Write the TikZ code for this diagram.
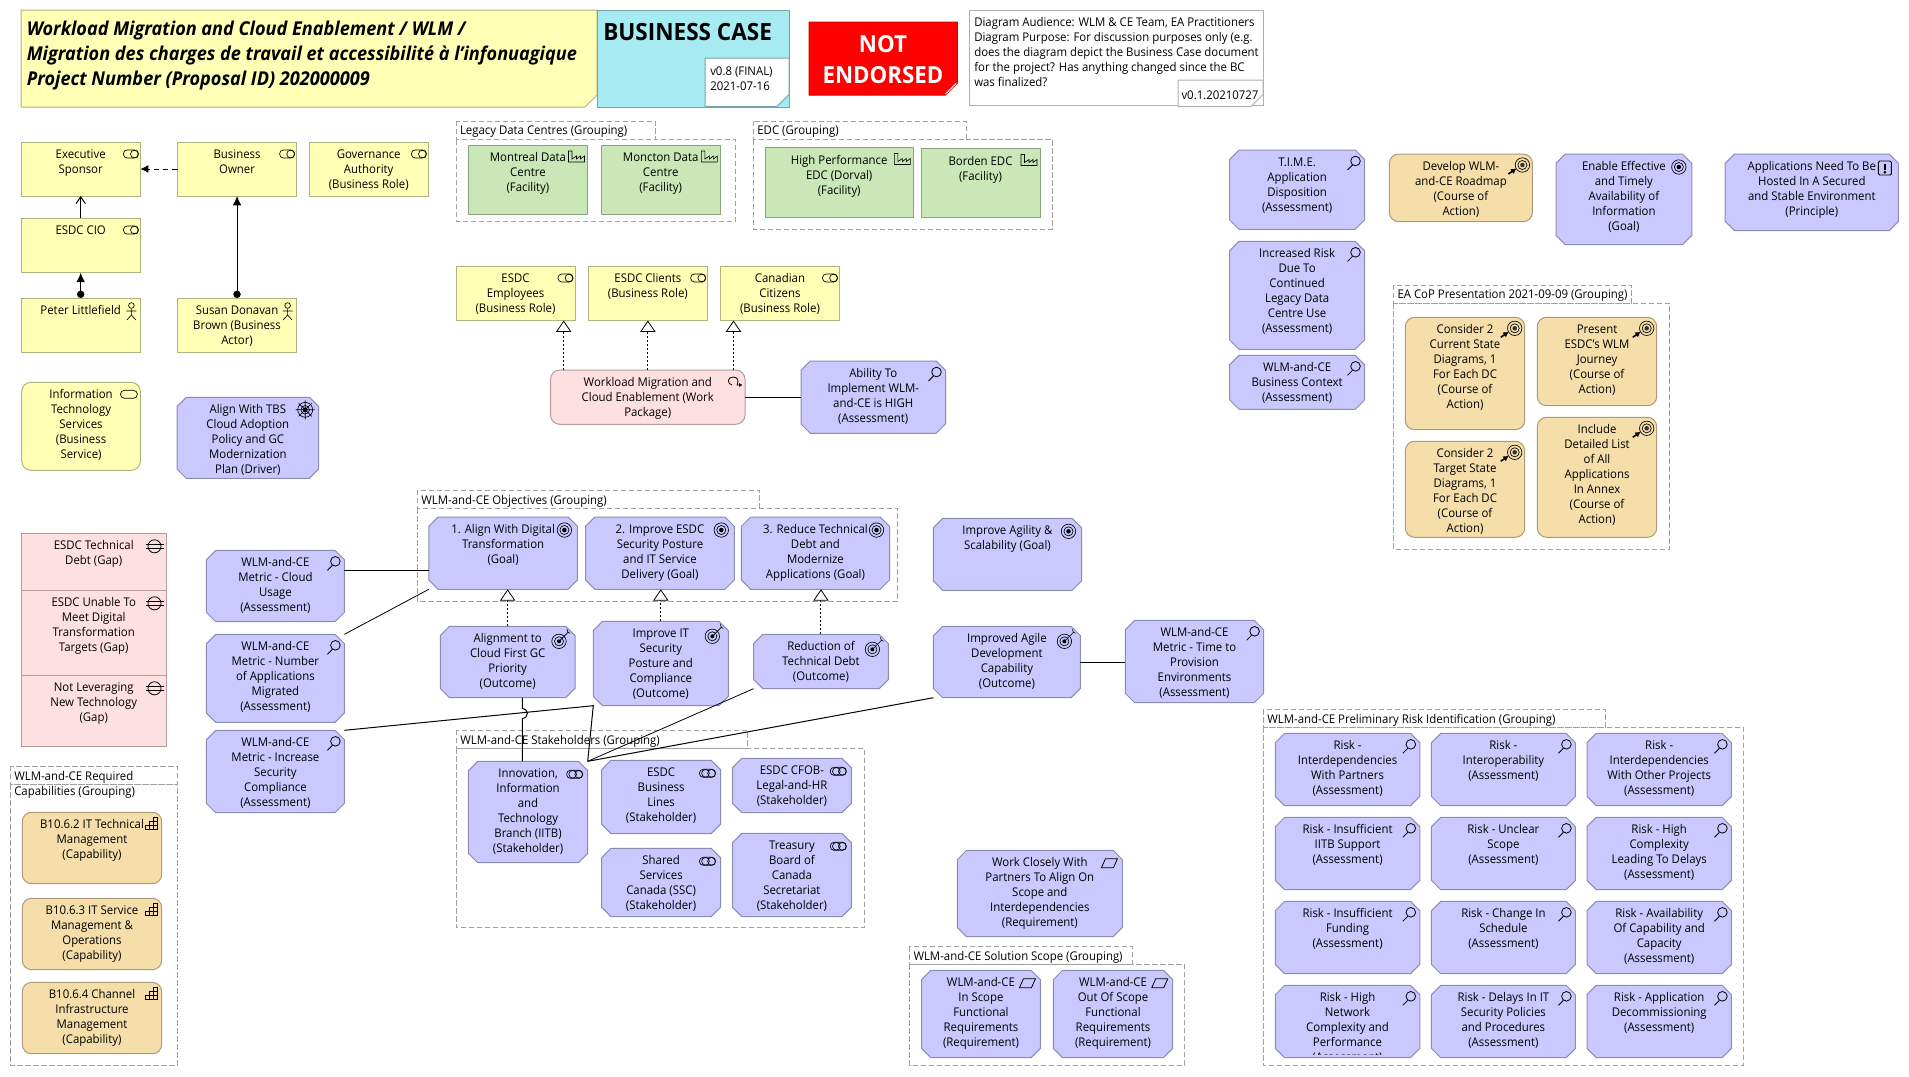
\documentclass[tikz,border=0pt]{standalone}
\usepackage{fontspec}
\setmainfont[FakeStretch=0.95]{Open Sans}
\usetikzlibrary{arrows.meta,calc}
\definecolor{cYel}{HTML}{FFFFB5}\definecolor{bYel}{HTML}{B2B27F}
\definecolor{cGrn}{HTML}{C9E7B7}\definecolor{bGrn}{HTML}{8CA180}
\definecolor{cBlu}{HTML}{C9C9FF}\definecolor{bBlu}{HTML}{8C8CB2}
\definecolor{cPnk}{HTML}{FFE0E0}\definecolor{bPnk}{HTML}{B29C9C}
\definecolor{cOrg}{HTML}{F5DEAA}\definecolor{bOrg}{HTML}{AB9B77}
\definecolor{cCya}{HTML}{A6EBF2}\definecolor{bCya}{HTML}{74A4A9}
\definecolor{bGry}{HTML}{B0B0B0}\definecolor{dGry}{HTML}{A0A0A0}
\makeatletter
\pgfdeclareshape{octbox}{
  \inheritsavedanchors[from=rectangle]
  \inheritanchorborder[from=rectangle]
  \inheritanchor[from=rectangle]{center}
  \inheritanchor[from=rectangle]{north}
  \inheritanchor[from=rectangle]{south}
  \inheritanchor[from=rectangle]{east}
  \inheritanchor[from=rectangle]{west}
  \inheritanchor[from=rectangle]{north east}
  \inheritanchor[from=rectangle]{north west}
  \inheritanchor[from=rectangle]{south east}
  \inheritanchor[from=rectangle]{south west}
  \backgroundpath{
    \southwest\pgf@xa=\pgf@x\pgf@ya=\pgf@y
    \northeast\pgf@xb=\pgf@x\pgf@yb=\pgf@y
    \def\c{7pt}
    \pgfpathmoveto{\pgfpoint{\pgf@xa+\c}{\pgf@ya}}
    \pgfpathlineto{\pgfpoint{\pgf@xb-\c}{\pgf@ya}}
    \pgfpathlineto{\pgfpoint{\pgf@xb}{\pgf@ya+\c}}
    \pgfpathlineto{\pgfpoint{\pgf@xb}{\pgf@yb-\c}}
    \pgfpathlineto{\pgfpoint{\pgf@xb-\c}{\pgf@yb}}
    \pgfpathlineto{\pgfpoint{\pgf@xa+\c}{\pgf@yb}}
    \pgfpathlineto{\pgfpoint{\pgf@xa}{\pgf@yb-\c}}
    \pgfpathlineto{\pgfpoint{\pgf@xa}{\pgf@ya+\c}}
    \pgfpathclose
  }
}
\pgfdeclareshape{notebox}{
  \inheritsavedanchors[from=rectangle]
  \inheritanchorborder[from=rectangle]
  \inheritanchor[from=rectangle]{center}
  \inheritanchor[from=rectangle]{north}
  \inheritanchor[from=rectangle]{south}
  \inheritanchor[from=rectangle]{east}
  \inheritanchor[from=rectangle]{west}
  \backgroundpath{
    \southwest\pgf@xa=\pgf@x\pgf@ya=\pgf@y
    \northeast\pgf@xb=\pgf@x\pgf@yb=\pgf@y
    \def\c{9pt}
    \pgfpathmoveto{\pgfpoint{\pgf@xa}{\pgf@ya}}
    \pgfpathlineto{\pgfpoint{\pgf@xb-\c}{\pgf@ya}}
    \pgfpathlineto{\pgfpoint{\pgf@xb}{\pgf@ya+\c}}
    \pgfpathlineto{\pgfpoint{\pgf@xb}{\pgf@yb}}
    \pgfpathlineto{\pgfpoint{\pgf@xa}{\pgf@yb}}
    \pgfpathclose
  }
}
\makeatother
\tikzset{
  elem/.style={inner sep=0pt,outer sep=0pt,line width=.75pt},
  yel/.style={elem,rectangle,draw=bYel,fill=cYel},
  yelr/.style={elem,rectangle,rounded corners=7pt,draw=bYel,fill=cYel},
  grn/.style={elem,rectangle,draw=bGrn,fill=cGrn},
  blu/.style={elem,shape=octbox,draw=bBlu,fill=cBlu},
  pnk/.style={elem,rectangle,draw=bPnk,fill=cPnk},
  pnkr/.style={elem,rectangle,rounded corners=7pt,draw=bPnk,fill=cPnk},
  org/.style={elem,rectangle,rounded corners=7pt,draw=bOrg,fill=cOrg},
  ic/.style={draw=black,line width=.5pt},
  grpline/.style={draw=dGry,dashed,dash pattern=on 4pt off 2pt,line width=.6pt,fill=white},
  grplabel/.style={anchor=north west,inner sep=0pt,outer sep=0pt,align=left,font=\txt},
  conn/.style={draw=black,line width=.75pt},
  real/.style={conn,dash pattern=on 1.6pt off 1.4pt,-{Triangle[open,fill=white,length=8.5pt,width=11.5pt,line width=.6pt]}},
  flow/.style={conn,dashed,dash pattern=on 4pt off 3pt,-{Latex[length=6pt,width=6pt]}},
  serve/.style={conn,-{Straight Barb[length=5pt,width=7pt]}},
  asg/.style={conn,{Circle[length=5.5pt]}-{Latex[length=7pt,width=6.5pt]}},
  pics/icnone/.style={code={\path (0,0);}},
  pics/icrole/.style={code={\draw[ic,rounded corners=2.8pt] (-17,8) rectangle (-2,16); \draw[ic] (-6,12) circle[radius=2.9pt];}},
  pics/icsvc/.style={code={\draw[ic,rounded corners=3pt] (-20,8) rectangle (-3,16);}},
  pics/icstk/.style={code={\draw[ic,rounded corners=2.7pt] (-21,9) rectangle (-5,17); \draw[ic] (-9,13) circle[radius=2.9pt]; \draw[ic] (-15,13) circle[radius=2.9pt];}},
  pics/icactor/.style={code={\draw[ic] (-9,7.5) circle[radius=2.1pt]; \draw[ic] (-9,10.5)--(-9,17)--(-13.5,22) (-9,17)--(-4.5,22) (-14,13)--(-4,13);}},
  pics/icfac/.style={code={\draw[ic] (-19,17)--(-19,6)--(-15.5,6)--(-15.5,14)--(-11,11)--(-11,14)--(-7,11)--(-7,14)--(-3,11)--(-3,17)--cycle;}},
  pics/icass/.style={code={\draw[ic,line width=.6pt] (-9,11) circle[radius=3.6pt]; \draw[ic,line width=.6pt] (-12,15)--(-17,20);}},
  pics/icgoal/.style={code={\draw[ic] (-13,13) circle[radius=5.4pt]; \draw[ic] (-13,13) circle[radius=3.4pt]; \fill (-13,13) circle[radius=1.7pt];}},
  pics/icout/.style={code={\draw[ic] (-16,15) circle[radius=5.4pt]; \draw[ic] (-16,15) circle[radius=3.4pt]; \fill (-16,15) circle[radius=1.5pt]; \draw[ic] (-16,15)--(-7,6)--(-8,3) (-7,6)--(-5,7);}},
  pics/iccoa/.style={code={\draw[ic] (-10,11) circle[radius=5.4pt]; \draw[ic] (-10,11) circle[radius=3.4pt]; \fill[black!80] (-10,11) circle[radius=1.7pt]; \draw[line width=1.2pt,-{Latex[length=4pt,width=4.5pt]}] (-24,20)--(-16,14.5);}},
  pics/icpri/.style={code={\draw[ic,line width=.7pt,rounded corners=1pt] (-20,7)rectangle(-7,21); \draw[line width=1.5pt] (-13.5,9.5)--(-13.5,15.5); \fill (-13.5,18.2) circle[radius=1.1pt];}},
  pics/icdrv/.style={code={\draw[ic] (-13.5,12.5) circle[radius=5.6pt]; \draw[ic] (-13.5,12.5) circle[radius=3.2pt]; \fill (-13.5,12.5) circle[radius=1.8pt]; \draw[ic] (-23,12.5)--(-4,12.5) (-13.5,3)--(-13.5,22) (-20,6)--(-7,19) (-7,6)--(-20,19);}},
  pics/icgap/.style={code={\draw[ic,line width=.6pt] (-12,13) circle[radius=4.9pt]; \draw[ic,line width=.6pt] (-21,11)--(-3,11) (-21,15)--(-3,15);}},
  pics/icwp/.style={code={\draw[ic,line width=.6pt,-{Latex[length=2.5pt,width=3pt]}] (-13,15) .. controls (-18,14) and (-18,7) .. (-12,7) .. controls (-7,7) and (-6,11) .. (-8,15) -- (-2.5,15);}},
  pics/iccap/.style={code={\draw[ic] (-16.5,17)rectangle(-12.5,13); \draw[ic] (-12.5,17)rectangle(-8,13); \draw[ic] (-8,17)rectangle(-4,13); \draw[ic] (-12.5,13)rectangle(-8,9); \draw[ic] (-8,13)rectangle(-4,9); \draw[ic] (-8,9)rectangle(-4,5);}},
  pics/icreq/.style={code={\draw[ic,line width=.6pt] (-21,17.5)--(-17,8.5)--(-5,8.5)--(-9,17.5)--cycle;}},
}
% the common text size
\newcommand\txt{\fontsize{9}{11.25}\selectfont}
% name, style, x1,y1,x2,y2, icon, lines
\newcommand\bx[8]{%
  \pgfmathsetlengthmacro\wl{(#5-#3)*.75pt}%
  \pgfmathsetlengthmacro\hl{(#6-#4)*.75pt}%
  \node[#2,minimum width=\wl,minimum height=\hl] (#1) at ({(#3+#5)/2},{(#4+#6)/2})
    {\parbox[c][\hl][t]{\wl}{\txt\vspace*{4.5pt}\centering\strut #8\par}};
  \pic at (#5,#4) {#7};
}
% group: name, tab x1,y1,x2,y2(body top), body x2,y2, label
\newcommand\grp[8]{%
  \path[grpline] (#2,#5) rectangle (#6,#7);%
  \path[grpline] (#2,#3) rectangle (#4,#5);%
  \node[grplabel] (#1) at ({#2+4},{#3+5}) {#8};%
}
\begin{document}
\begin{tikzpicture}[x=.75pt,y=-.75pt]
\useasboundingbox (0,0) rectangle (1909,1076);
\fill[white] (0,0) rectangle (1909,1076);
% ---------- groupings ----------
\grp{gLegacy}{456}{121}{655.5}{139.5}{735.5}{221}{Legacy Data Centres (Grouping)}
\grp{gEdc}{753.4}{121}{966.4}{139.5}{1052.5}{229}{EDC (Grouping)}
\grp{gObj}{417.4}{490}{759.5}{508.3}{897.7}{601.3}{WLM-and-CE Objectives (Grouping)}
\grp{gStk}{456.4}{730}{747.4}{748.3}{864.3}{927.7}{WLM-and-CE Stakeholders (Grouping)}
\grp{gSol}{909.5}{946.3}{1132.4}{964.3}{1184.6}{1065.3}{WLM-and-CE Solution Scope (Grouping)}
\grp{gRisk}{1263.3}{709.3}{1605.6}{727.3}{1743.4}{1065.7}{WLM-and-CE Preliminary Risk Identification (Grouping)}
\grp{gEa}{1393.5}{285}{1631.5}{303.3}{1669.8}{549.3}{EA CoP Presentation 2021-09-09 (Grouping)}
\grp{gCap}{10.3}{766}{177.7}{784.3}{177.7}{1065.3}{WLM-and-CE Required\\Capabilities (Grouping)}
% ---------- header notes ----------
\bx{title}{shape=notebox,elem,draw=bYel,fill=cYel}{21}{10}{597}{107}{icnone}{}
\node[anchor=north west,inner sep=0pt,align=left,font=\fontsize{14.3}{18.75}\selectfont\bfseries\itshape] (titletxt) at (26.5,20.5) {Workload Migration and Cloud Enablement / WLM /\\Migration des charges de travail et accessibilité à l'infonuagique\\Project Number (Proposal ID) 202000009};
\bx{bc}{rectangle,elem,draw=bCya,fill=cCya}{597}{10}{789}{107}{icnone}{}
\node[anchor=west,inner sep=0pt,font=\fontsize{17.8}{20}\selectfont\bfseries] (bctxt) at (603,32) {BUSINESS CASE};
\bx{vbc}{shape=notebox,elem,draw=bCya,fill=white}{705}{58}{789}{106.5}{icnone}{}
\node[anchor=north west,inner sep=0pt,align=left,font=\txt] (vbctxt) at (710,66.5) {v0.8 (FINAL)\\2021-07-16};
\bx{endorsed}{shape=notebox,elem,draw=red!85!black,fill=red}{809}{22}{957.4}{95}{icnone}{}
\node[inner sep=0pt,align=center,text=white,font=\fontsize{17.6}{23.25}\selectfont\bfseries] (endtxt) at (883,59.5) {NOT\\ENDORSED};
\draw[white,line width=1pt,dash pattern=on 1pt off .5pt] (956,83.5)--(945.5,94);
\bx{audience}{rectangle,elem,draw=bGry,fill=white}{969}{10}{1263}{105.5}{icnone}{}
\node[anchor=north west,inner sep=0pt,align=left,font=\txt] (audtxt) at (974,17.5) {Diagram Audience: WLM \& CE Team, EA Practitioners\\Diagram Purpose: For discussion purposes only (e.g.\\does the diagram depict the Business Case document\\for the project? Has anything changed since the BC\\was finalized?};
\bx{vaud}{shape=notebox,elem,draw=bGry,fill=white}{1178}{80}{1263}{106.5}{icnone}{}
\node[inner sep=0pt,font=\txt] (vaudtxt) at (1220,95) {v0.1.20210727};
% ---------- motivation / business, top left ----------
\bx{exec}{yel}{21}{142}{140.4}{196}{icrole}{Executive\\Sponsor}
\bx{owner}{yel}{177.5}{142}{296.6}{196}{icrole}{Business\\Owner}
\bx{gov}{yel}{309}{142}{428.4}{196}{icrole}{Governance\\Authority\\(Business Role)}
\bx{cio}{yel}{21}{218}{140.4}{272.7}{icrole}{ESDC CIO}
\bx{peter}{yel}{21}{298}{140.4}{352.7}{icactor}{Peter Littlefield}
\bx{susan}{yel}{177.5}{298}{296.6}{352.7}{icactor}{Susan Donavan\\Brown (Business\\Actor)}
\bx{infot}{yelr}{21.7}{382.3}{140.4}{470.3}{icsvc}{Information\\Technology\\Services\\(Business\\Service)}
\bx{tbs}{blu}{177}{397.3}{318.7}{478.3}{icdrv}{Align With TBS\\Cloud Adoption\\Policy and GC\\Modernization\\Plan (Driver)}
% facilities
\bx{mtl}{grn}{468.4}{145}{587.5}{214}{icfac}{Montreal Data\\Centre\\(Facility)}
\bx{mct}{grn}{601}{145}{720.4}{214}{icfac}{Moncton Data\\Centre\\(Facility)}
\bx{hp}{grn}{765}{147.5}{913.4}{217.5}{icfac}{High Performance\\EDC (Dorval)\\(Facility)}
\bx{bor}{grn}{921}{148.5}{1040}{217.5}{icfac}{Borden EDC\\(Facility)}
% roles
\bx{emp}{yel}{456}{266}{575}{320.5}{icrole}{ESDC\\Employees\\(Business Role)}
\bx{cli}{yel}{588}{266}{707.7}{320.5}{icrole}{ESDC Clients\\(Business Role)}
\bx{can}{yel}{720.4}{266}{839.5}{320.5}{icrole}{Canadian\\Citizens\\(Business Role)}
\bx{wp}{pnkr}{550.5}{370}{745}{424.3}{icwp}{Workload Migration and\\Cloud Enablement (Work\\Package)}
\bx{abil}{blu}{801}{361}{945.5}{433.3}{icass}{Ability To\\Implement WLM-\\and-CE is HIGH\\(Assessment)}
% right column
\bx{time}{blu}{1229.7}{150}{1364.5}{229.3}{icass}{T.I.M.E.\\Application\\Disposition\\(Assessment)}
\bx{incr}{blu}{1229.7}{241.3}{1364.5}{349.3}{icass}{Increased Risk\\Due To\\Continued\\Legacy Data\\Centre Use\\(Assessment)}
\bx{bctx}{blu}{1229.7}{355.3}{1364.5}{409.3}{icass}{WLM-and-CE\\Business Context\\(Assessment)}
\bx{dev}{org}{1389.4}{154}{1532.4}{221.7}{iccoa}{Develop WLM-\\and-CE Roadmap\\(Course of\\Action)}
\bx{enab}{blu}{1556}{154}{1691.8}{244.7}{icgoal}{Enable Effective\\and Timely\\Availability of\\Information\\(Goal)}
\bx{appl}{blu}{1725.2}{154}{1898.4}{230.7}{icpri}{Applications Need To Be\\Hosted In A Secured\\and Stable Environment\\(Principle)}
\bx{cur}{org}{1405.3}{317.3}{1524.7}{429.7}{iccoa}{Consider 2\\Current State\\Diagrams, 1\\For Each DC\\(Course of\\Action)}
\bx{pres}{org}{1537.3}{317.3}{1656.7}{405.7}{iccoa}{Present\\ESDC's WLM\\Journey\\(Course of\\Action)}
\bx{tgt}{org}{1405.3}{441.3}{1524.7}{537.3}{iccoa}{Consider 2\\Target State\\Diagrams, 1\\For Each DC\\(Course of\\Action)}
\bx{incl}{org}{1537.3}{417.3}{1656.7}{537.3}{iccoa}{Include\\Detailed List\\of All\\Applications\\In Annex\\(Course of\\Action)}
% gaps
\bx{gap1}{pnk}{21}{533.3}{166.5}{590.3}{icgap}{ESDC Technical\\Debt (Gap)}
\bx{gap2}{pnk}{21}{590.3}{166.5}{675.3}{icgap}{ESDC Unable To\\Meet Digital\\Transformation\\Targets (Gap)}
\bx{gap3}{pnk}{21}{675.3}{166.5}{746.7}{icgap}{Not Leveraging\\New Technology\\(Gap)}
% metrics
\bx{mcloud}{blu}{206.4}{550.3}{344.4}{621.7}{icass}{WLM-and-CE\\Metric - Cloud\\Usage\\(Assessment)}
\bx{mnum}{blu}{206.4}{634.3}{344.4}{722.3}{icass}{WLM-and-CE\\Metric - Number\\of Applications\\Migrated\\(Assessment)}
\bx{msec}{blu}{206.4}{730.3}{344.4}{812.7}{icass}{WLM-and-CE\\Metric - Increase\\Security\\Compliance\\(Assessment)}
% capabilities
\bx{cap1}{org}{22.3}{812.3}{161.7}{883.7}{iccap}{B10.6.2 IT Technical\\Management\\(Capability)}
\bx{cap2}{org}{22.3}{898.3}{161.7}{969.7}{iccap}{B10.6.3 IT Service\\Management \&\\Operations\\(Capability)}
\bx{cap3}{org}{22.3}{982.3}{161.7}{1053.7}{iccap}{B10.6.4 Channel\\Infrastructure\\Management\\(Capability)}
% goals and outcomes
\bx{goal1}{blu}{428.8}{517}{577.4}{589.3}{icgoal}{1. Align With Digital\\Transformation\\(Goal)}
\bx{goal2}{blu}{585.6}{517}{734.3}{589.3}{icgoal}{2. Improve ESDC\\Security Posture\\and IT Service\\Delivery (Goal)}
\bx{goal3}{blu}{741.4}{517}{889.5}{589.3}{icgoal}{3. Reduce Technical\\Debt and\\Modernize\\Applications (Goal)}
\bx{agil}{blu}{933.4}{518.3}{1081.5}{590.3}{icgoal}{Improve Agility \&\\Scalability (Goal)}
\bx{out1}{blu}{440.3}{626.3}{575}{697.7}{icout}{Alignment to\\Cloud First GC\\Priority\\(Outcome)}
\bx{out2}{blu}{593.3}{621.3}{728.3}{705.7}{icout}{Improve IT\\Security\\Posture and\\Compliance\\(Outcome)}
\bx{out3}{blu}{753.5}{634.3}{888.4}{688.7}{icout}{Reduction of\\Technical Debt\\(Outcome)}
\bx{out4}{blu}{933.4}{626.3}{1080.4}{697.7}{icout}{Improved Agile\\Development\\Capability\\(Outcome)}
\bx{mtime}{blu}{1125.4}{620.3}{1263.6}{702.7}{icass}{WLM-and-CE\\Metric - Time to\\Provision\\Environments\\(Assessment)}
% stakeholders
\bx{innov}{blu}{468.4}{761.3}{587.7}{862.7}{icstk}{Innovation,\\Information\\and\\Technology\\Branch (IITB)\\(Stakeholder)}
\bx{lines}{blu}{601.7}{760.3}{720.5}{833.7}{icstk}{ESDC\\Business\\Lines\\(Stakeholder)}
\bx{cfob}{blu}{732.5}{758.3}{851.3}{812.7}{icstk}{ESDC CFOB-\\Legal-and-HR\\(Stakeholder)}
\bx{ssc}{blu}{601.7}{848.3}{720.5}{916.7}{icstk}{Shared\\Services\\Canada (SSC)\\(Stakeholder)}
\bx{tbsct}{blu}{732.5}{833.3}{851.3}{916.7}{icstk}{Treasury\\Board of\\Canada\\Secretariat\\(Stakeholder)}
% requirements
\bx{work}{blu}{957.3}{850.3}{1122.4}{936.7}{icreq}{Work Closely With\\Partners To Align On\\Scope and\\Interdependencies\\(Requirement)}
\bx{inscope}{blu}{921.5}{970.3}{1040.4}{1057.7}{icreq}{WLM-and-CE\\In Scope\\Functional\\Requirements\\(Requirement)}
\bx{outscope}{blu}{1053.3}{970.3}{1172.7}{1057.7}{icreq}{WLM-and-CE\\Out Of Scope\\Functional\\Requirements\\(Requirement)}
% risks
\bx{r11}{blu}{1275.3}{733.3}{1419.8}{805.7}{icass}{Risk -\\Interdependencies\\With Partners\\(Assessment)}
\bx{r12}{blu}{1431.4}{733.3}{1575.4}{805.7}{icass}{Risk -\\Interoperability\\(Assessment)}
\bx{r13}{blu}{1587}{733.3}{1731.4}{805.7}{icass}{Risk -\\Interdependencies\\With Other Projects\\(Assessment)}
\bx{r21}{blu}{1275.3}{817.3}{1419.8}{889.7}{icass}{Risk - Insufficient\\IITB Support\\(Assessment)}
\bx{r22}{blu}{1431.4}{817.3}{1575.4}{889.7}{icass}{Risk - Unclear\\Scope\\(Assessment)}
\bx{r23}{blu}{1587}{817.3}{1731.4}{889.7}{icass}{Risk - High\\Complexity\\Leading To Delays\\(Assessment)}
\bx{r31}{blu}{1275.3}{901.3}{1419.8}{973.7}{icass}{Risk - Insufficient\\Funding\\(Assessment)}
\bx{r32}{blu}{1431.4}{901.3}{1575.4}{973.7}{icass}{Risk - Change In\\Schedule\\(Assessment)}
\bx{r33}{blu}{1587}{901.3}{1731.4}{973.7}{icass}{Risk - Availability\\Of Capability and\\Capacity\\(Assessment)}
\bx{r41}{blu}{1275.3}{985.3}{1419.8}{1057.7}{icass}{}
\bx{r42}{blu}{1431.4}{985.3}{1575.4}{1057.7}{icass}{Risk - Delays In IT\\Security Policies\\and Procedures\\(Assessment)}
\bx{r43}{blu}{1587}{985.3}{1731.4}{1057.7}{icass}{Risk - Application\\Decommissioning\\(Assessment)}
\begin{scope}
  \clip (1275.3,985.3) rectangle (1419.8,1054);
  \node[anchor=north,inner sep=0pt,align=center,font=\txt] (r41txt) at (1347.5,992) {Risk - High\\Network\\Complexity and\\Performance\\(Assessment)};
\end{scope}
% ---------- connectors ----------
\draw[flow] (owner.west) -- (exec.east);
\draw[serve] (cio.north) -- (exec.south);
\draw[asg,line width=1pt] (peter.north) -- (cio.south);
\draw[asg] (susan.north) -- (owner.south);
\coordinate (empTip) at (563.7,320.5);
\coordinate (canTip) at (733.5,320.5);
\draw[real] (empTip |- wp.north) -- (empTip);
\draw[real] (cli.south |- wp.north) -- (cli.south);
\draw[real] (canTip |- wp.north) -- (canTip);
\draw[conn] (wp.east) -- (abil.west);
\coordinate (cloudY) at (0,570.3);
\draw[conn] (mcloud.east |- cloudY) -- (goal1.west |- cloudY);
\draw[conn,line width=.6pt] (mnum.north east) -- (goal1.south west);
\draw[real] (out1.north) -- (out1.north |- goal1.south);
\draw[real] (out2.north) -- (out2.north |- goal2.south);
\draw[real] (out3.north) -- (out3.north |- goal3.south);
\draw[conn] (out4.east) -- (mtime.west |- out4.east);
\coordinate (hopTop) at (522.3,697.7);
\coordinate (hopBot) at (522.3,761.3);
\draw[conn] (hopTop) -- (522.3,708.5) .. controls (529,709) and (529,718) .. (522.3,718.5) -- (hopBot);
\draw[conn] (msec.north east) -- (out2.south west) -- (innov.north east);
\draw[conn,line width=.6pt] (out3.south west) -- (innov.north east);
\draw[conn] (out4.south west) -- (innov.north east);
\end{tikzpicture}
\end{document}
